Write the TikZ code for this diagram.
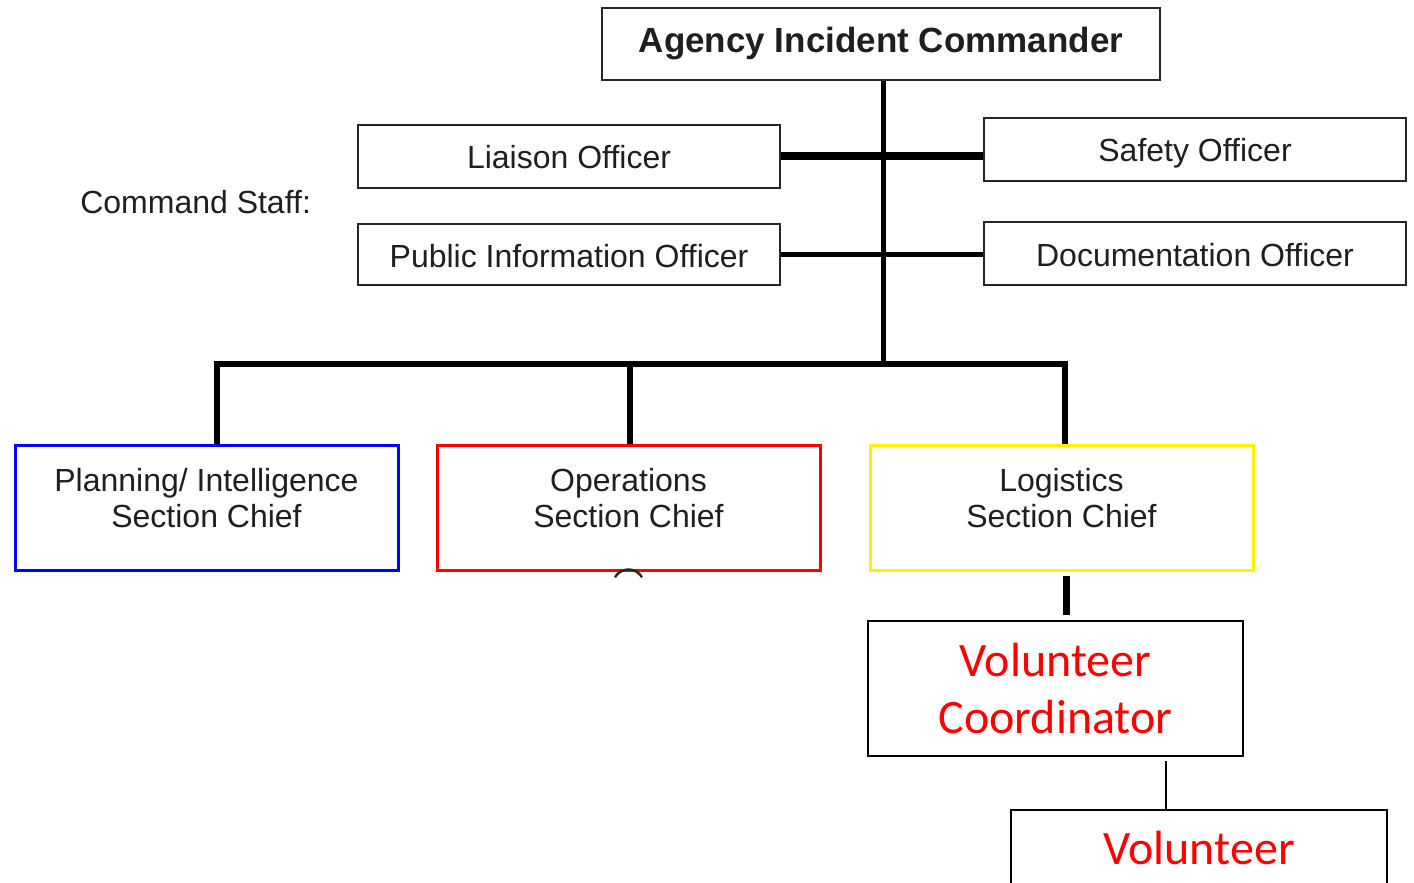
\documentclass[tikz,border=0pt]{standalone}
\usepackage{fontspec}
\setmainfont{Liberation Sans}
\newfontfamily\calfont{Carlito}
\usetikzlibrary{positioning,calc}

\begin{document}
\begin{tikzpicture}[x=0.5pt,y=-0.5pt,
		box/.style={draw=black!85,line width=1pt,inner sep=0pt,text=black!88,font=\fontsize{16}{18}\selectfont},
		staff/.style={box,minimum width=211pt,minimum height=31.5pt,text height=12.5pt,text depth=0pt},
		chief/.style={box,line width=1.5pt,minimum width=191.5pt,minimum height=62.5pt,align=center,text depth=10pt},
		redbox/.style={draw=black,line width=1pt,inner sep=0pt,align=center,text=red,font=\calfont\fontsize{24}{28.3}\selectfont},
	]
		\useasboundingbox (0,0) rectangle (1414,883);
		\node[box,minimum width=279pt,minimum height=36pt,font=\bfseries\fontsize{17.5}{20}\selectfont] (aic) at (881,44) {Agency Incident Commander};
		\node[staff] (liaison) at (569,156.5) {Liaison Officer};
		\node[staff,minimum height=30.5pt] (pio) at (569,254.5) {Public Information Officer};
		\node[staff] (safety) at (1195,149.5) {Safety Officer};
		\node[staff] (doc) at (1195,253.5) {Documentation Officer};
		\node[anchor=east,text=black!88,font=\fontsize{16}{18}\selectfont,left=19.5pt of {$(liaison.west)!0.47!(pio.west)$}] (cmd) {Command Staff:};
		%
		\node[chief,draw=blue] (plan) at (206.5,507.5) {Planning/ Intelligence\\Section Chief};
		\node[chief,draw=red] (ops) at (628.5,507.5) {Operations\\Section Chief};
		\node[chief,draw=yellow] (logi) at (1061.5,507.5) {Logistics\\Section Chief};
		%
		\node[redbox,minimum width=187.5pt,minimum height=67.5pt] (vc) at (1055.5,688.5) {Volunteer\\Coordinator};
		\node[redbox,minimum width=188pt,anchor=north,inner ysep=10.5pt,text depth=60pt] (vol) at (1199,809) {Volunteer};
		%
		\coordinate (bar) at (883,364);
		\coordinate (pj) at (217,364);
		\coordinate (oj) at (630,364);
		\coordinate (lj) at (1065,364);
		\coordinate (lk) at (1066,595);
		\coordinate (vk) at (1166,780);
		%
		\draw[line width=2.5pt] (aic.south -| bar) -- (bar);
		\draw[line width=4pt] (liaison.east) -- (liaison.east -| safety.west);
		\draw[line width=2.5pt] (pio.east) -- (pio.east -| doc.west);
		\draw[line width=3pt] (pj |- plan.north) -- (pj) -- (lj) -- (lj |- logi.north);
		\draw[line width=3pt] (oj) -- (oj |- ops.north);
		\draw[line width=3.5pt,shorten <=2pt,shorten >=2.5pt] (logi.south -| lk) -- (vc.north -| lk);
		\draw[line width=1pt,shorten <=2pt] (vc.south -| vk) -- (vol.north -| vk);
		\draw[black!85,line width=1.2pt] ($(ops.south)+(-13.5,5.8)$) arc[start angle=150,end angle=30,radius=7.8pt];
	\end{tikzpicture}
\end{document}
